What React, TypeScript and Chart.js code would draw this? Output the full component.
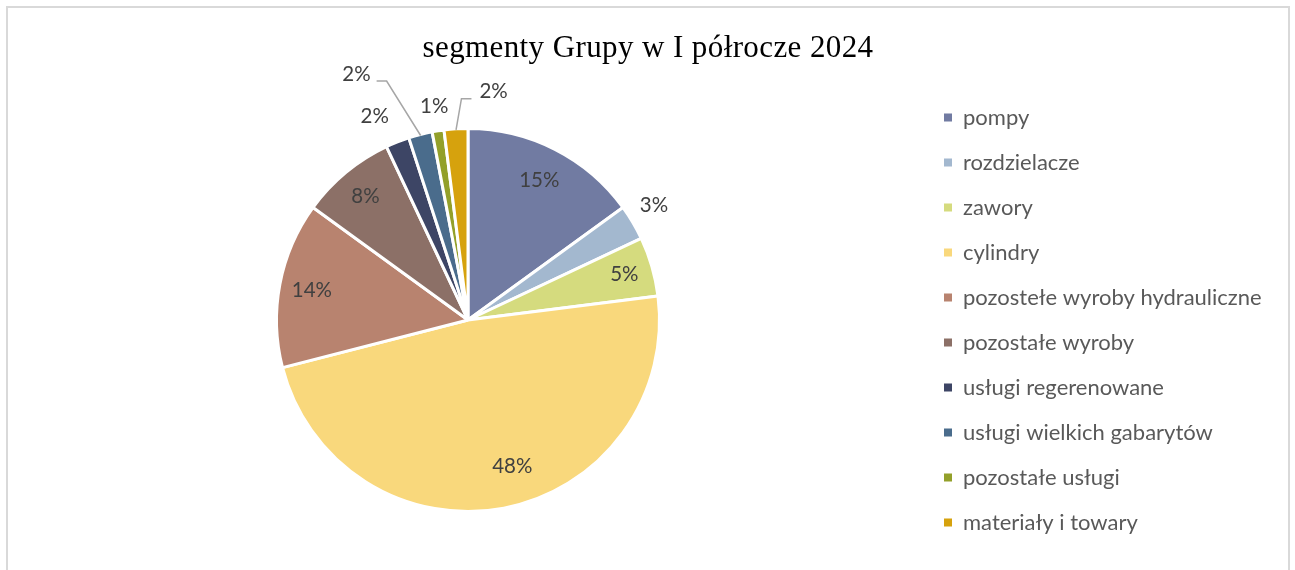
import React, { useEffect, useRef } from "react";
import { Chart, registerables } from "chart.js";

Chart.register(...registerables);

const titleText = "segmenty Grupy w I półrocze 2024";

const categories = [
  "pompy",
  "rozdzielacze",
  "zawory",
  "cylindry",
  "pozostełe wyroby hydrauliczne",
  "pozostałe wyroby",
  "usługi regerenowane",
  "usługi wielkich gabarytów",
  "pozostałe usługi",
  "materiały i towary",
];

const shares = [15, 3, 5, 48, 14, 8, 2, 2, 1, 2];

const sliceColors = [
  "#717BA2",
  "#A3B8CF",
  "#D5DB7E",
  "#F9D87C",
  "#B8836F",
  "#8C7067",
  "#3D4565",
  "#4A6C8C",
  "#93A02A",
  "#D6A20D",
];

// label placement styling: radial factor of outer radius, angular shift (deg), leader line flag
const labelRadius = [0.82, 1.14, 0.85, 0.8, 0.83, 0.84, 1.17, 1.41, 1.13, 1.2];
const labelAngleShift = [0, -1, 0, -6, 0, 0, -3, -10, 0, 10];
const labelLeader = [false, false, false, false, false, false, false, true, false, true];

const CANVAS_W = 1280;
const CANVAS_H = 562;
const LEGEND_LEFT = 913;
const PAD_RIGHT_START = 20;

const titlePlugin = {
  id: "serifTitle",
  afterDraw(chart: any) {
    const ctx = chart.ctx;
    ctx.save();
    ctx.font = "31px 'Liberation Serif', 'Times New Roman', serif";
    (ctx as any).letterSpacing = "0.4px";
    ctx.fillStyle = "#000000";
    ctx.textAlign = "center";
    ctx.textBaseline = "alphabetic";
    ctx.fillText(titleText, chart.width / 2, 48.5);
    ctx.restore();
  },
};

const labelPlugin = {
  id: "pieLabels",
  afterDatasetsDraw(chart: any) {
    const ctx = chart.ctx;
    const meta = chart.getDatasetMeta(0);
    const data = chart.data.datasets[0].data as number[];
    const total = data.reduce((a: number, b: number) => a + b, 0);
    ctx.save();
    ctx.font = "20.5px Lato";
    ctx.textAlign = "center";
    ctx.textBaseline = "middle";
    meta.data.forEach((arc: any, i: number) => {
      const p = arc.getProps(["x", "y", "startAngle", "endAngle", "outerRadius"], true);
      const midOrig = (p.startAngle + p.endAngle) / 2;
      const mid = midOrig + (labelAngleShift[i] * Math.PI) / 180;
      const r = p.outerRadius * labelRadius[i];
      const lx = p.x + Math.cos(mid) * r;
      const ly = p.y + Math.sin(mid) * r;
      const text = Math.round((data[i] / total) * 100) + "%";
      const w = ctx.measureText(text).width;
      if (labelLeader[i]) {
        const ax = p.x + Math.cos(midOrig) * (p.outerRadius - 1);
        const ay = p.y + Math.sin(midOrig) * (p.outerRadius - 1);
        let sx: number, ex: number;
        const sy = ly + 7;
        if (lx < ax) {
          sx = lx + w / 2 + 6;
          ex = sx + 10;
        } else {
          sx = lx - w / 2 - 8;
          ex = sx - 10;
        }
        ctx.strokeStyle = "#A6A6A6";
        ctx.lineWidth = 1.5;
        ctx.beginPath();
        ctx.moveTo(sx, sy);
        ctx.lineTo(ex, sy);
        ctx.lineTo(ax, ay);
        ctx.stroke();
      }
      ctx.fillStyle = "#404040";
      ctx.fillText(text, lx, ly);
    });
    ctx.restore();
  },
};

export default function App() {
  const ref = useRef<HTMLCanvasElement | null>(null);

  useEffect(() => {
    if (!ref.current) return;
    const defaultGen = (Chart as any).overrides.doughnut.plugins.legend.labels.generateLabels;
    const chart = new Chart(ref.current, {
      type: "pie",
      data: {
        labels: categories,
        datasets: [
          {
            data: shares,
            backgroundColor: sliceColors,
            borderColor: "#FFFFFF",
            borderWidth: 3,
          },
        ],
      },
      options: {
        responsive: false,
        animation: false,
        radius: 191.5,
        layout: { padding: { left: 7, right: PAD_RIGHT_START, top: 64.4, bottom: 2.4 } },
        plugins: {
          tooltip: { enabled: false },
          title: { display: false },
          legend: {
            display: true,
            position: "right",
            align: "center",
            fullSize: false,
            labels: {
              boxWidth: 8,
              boxHeight: 8,
              padding: 23,
              color: "#595959",
              font: { family: "Lato", size: 22 },
              generateLabels: (c: any) =>
                defaultGen(c).map((it: any) => ({ ...it, lineWidth: 0, strokeStyle: "rgba(0,0,0,0)" })),
            },
          },
        },
      } as any,
      plugins: [labelPlugin, titlePlugin],
    });
    const dx = (chart as any).legend.left - LEGEND_LEFT;
    if (Math.abs(dx) > 0.1) {
      (chart.options as any).layout.padding.right = PAD_RIGHT_START + dx;
      chart.update();
    }
    return () => chart.destroy();
  }, []);

  return (
    <div
      style={{
        position: "fixed",
        left: 6,
        top: 6,
        width: CANVAS_W,
        height: 620,
        border: "2px solid #D9D9D9",
        background: "#FFFFFF",
      }}
    >
      <canvas ref={ref} width={CANVAS_W} height={CANVAS_H} style={{ display: "block", width: CANVAS_W, height: CANVAS_H }} />
    </div>
  );
}
